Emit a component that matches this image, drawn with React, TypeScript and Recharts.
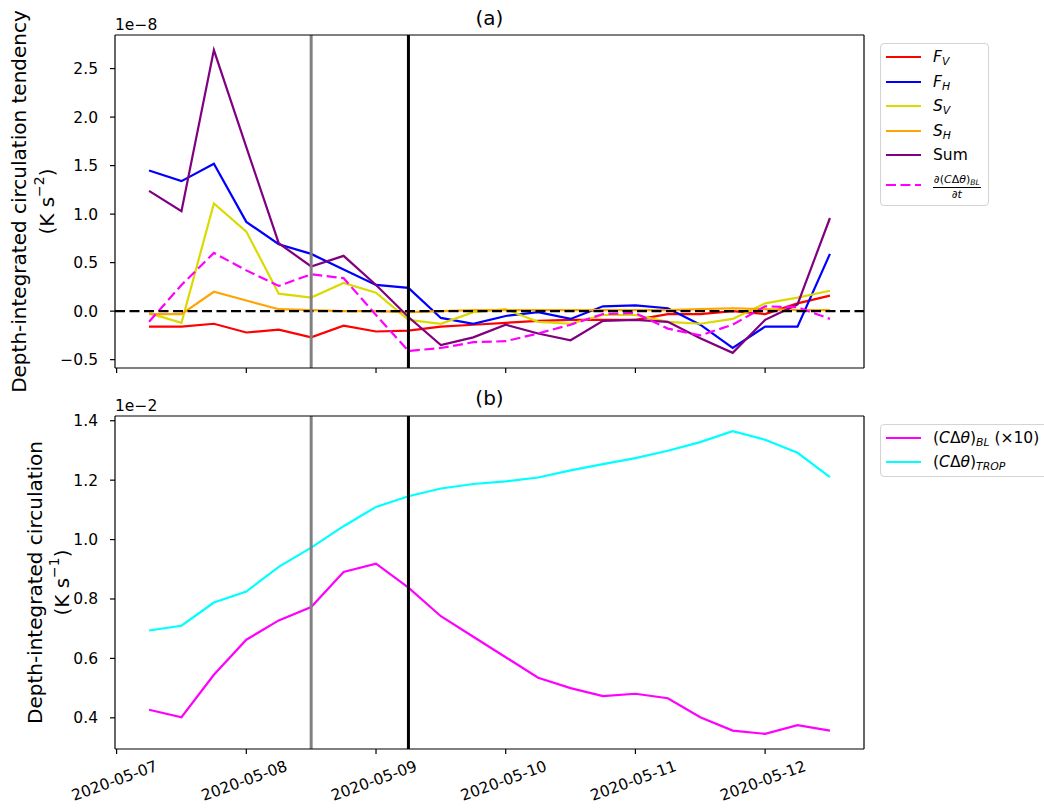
import React from 'react';
import { LineChart, Line, XAxis, YAxis, ReferenceLine } from 'recharts';

// 6-hourly samples
const times = [
  '2020-05-07T06:00Z', '2020-05-07T12:00Z', '2020-05-07T18:00Z',
  '2020-05-08T00:00Z', '2020-05-08T06:00Z', '2020-05-08T12:00Z', '2020-05-08T18:00Z',
  '2020-05-09T00:00Z', '2020-05-09T06:00Z', '2020-05-09T12:00Z', '2020-05-09T18:00Z',
  '2020-05-10T00:00Z', '2020-05-10T06:00Z', '2020-05-10T12:00Z', '2020-05-10T18:00Z',
  '2020-05-11T00:00Z', '2020-05-11T06:00Z', '2020-05-11T12:00Z', '2020-05-11T18:00Z',
  '2020-05-12T00:00Z', '2020-05-12T06:00Z', '2020-05-12T12:00Z',
];
const dayTicks = ['2020-05-07', '2020-05-08', '2020-05-09', '2020-05-10', '2020-05-11', '2020-05-12'];
const markerTimes = ['2020-05-08T12:00Z', '2020-05-09T06:00Z'];

// (a) tendency terms, units 1e-8 K s^-2
const fV = [-0.16, -0.16, -0.13, -0.22, -0.19, -0.27, -0.15, -0.21, -0.20, -0.16, -0.14, -0.12, -0.10, -0.09, -0.09, -0.09, -0.03, -0.03, 0.00, -0.03, 0.08, 0.16];
const fH = [1.45, 1.34, 1.52, 0.92, 0.69, 0.59, 0.43, 0.27, 0.24, -0.07, -0.13, -0.05, -0.01, -0.08, 0.05, 0.06, 0.03, -0.14, -0.38, -0.16, -0.16, 0.59];
const sV = [-0.02, -0.12, 1.11, 0.82, 0.18, 0.14, 0.29, 0.19, -0.09, -0.13, -0.01, 0.02, -0.11, -0.13, -0.04, -0.04, -0.11, -0.13, -0.08, 0.08, 0.14, 0.21];
const sH = [-0.03, -0.03, 0.20, 0.11, 0.02, 0.01, 0.00, 0.00, -0.01, 0.00, 0.01, 0.01, 0.01, 0.01, 0.01, 0.01, 0.01, 0.02, 0.03, 0.02, 0.01, 0.01];
const sumTend = [1.24, 1.03, 2.69, 1.69, 0.70, 0.46, 0.57, 0.27, -0.06, -0.35, -0.27, -0.14, -0.23, -0.30, -0.10, -0.09, -0.11, -0.28, -0.43, -0.09, 0.07, 0.96];
const dBLdt = [-0.11, 0.27, 0.60, 0.42, 0.26, 0.38, 0.34, -0.04, -0.41, -0.38, -0.32, -0.31, -0.23, -0.14, -0.03, -0.02, -0.18, -0.25, -0.14, 0.05, 0.04, -0.08];

// (b) circulation, units 1e-2 K s^-1
const circBL = [0.427, 0.402, 0.545, 0.663, 0.728, 0.773, 0.891, 0.919, 0.838, 0.742, 0.673, 0.604, 0.535, 0.500, 0.473, 0.481, 0.466, 0.402, 0.357, 0.346, 0.375, 0.357];
const circTrop = [0.694, 0.710, 0.788, 0.825, 0.908, 0.973, 1.045, 1.110, 1.146, 1.172, 1.187, 1.196, 1.209, 1.233, 1.254, 1.274, 1.299, 1.328, 1.365, 1.336, 1.292, 1.210];

const topTicks = [-0.5, 0, 0.5, 1.0, 1.5, 2.0, 2.5];
const bottomTicks = [0.4, 0.6, 0.8, 1.0, 1.2, 1.4];

const startMs = Date.parse(dayTicks[0]);
const toDays = (s: string) => (Date.parse(s) - startMs) / 864e5;

// matplotlib style 5% autoscale margins
const padDomain = (vals: number[]): [number, number] => {
  const lo = Math.min(...vals);
  const hi = Math.max(...vals);
  const p = (hi - lo) * 0.05;
  return [lo - p, hi + p];
};

const xs = times.map(toDays);
const xDomain = padDomain(xs);
const tickDays = dayTicks.map(toDays);
const markers = markerTimes.map(toDays);
const topDomain = padDomain([...fV, ...fH, ...sV, ...sH, ...sumTend, ...dBLdt]);
const bottomDomain = padDomain([...circBL, ...circTrop]);

const topData = xs.map((t, i) => ({
  t, fV: fV[i], fH: fH[i], sV: sV[i], sH: sH[i], sum: sumTend[i], dBL: dBLdt[i],
}));
const bottomData = xs.map((t, i) => ({ t, bl: circBL[i], trop: circTrop[i] }));

const FONT = '"DejaVu Sans", sans-serif';
const TICK_FS = 15.5;
const LABEL_FS = 20;
const LW = 2.2;
const DASH = '10 4.5';

const Sub = ({ children }: { children: React.ReactNode }) => (
  <sub style={{ fontSize: '0.7em', fontStyle: 'italic', verticalAlign: '-0.3em', lineHeight: 0 }}>{children}</sub>
);

const CDT = () => (
  <>(<i>C</i>Δ<i>θ</i>)</>
);

const topSeries = [
  { key: 'fV', color: '#ff0000', label: <><i>F</i><Sub>V</Sub></> },
  { key: 'fH', color: '#0000ff', label: <><i>F</i><Sub>H</Sub></> },
  { key: 'sV', color: '#dada00', label: <><i>S</i><Sub>V</Sub></> },
  { key: 'sH', color: '#ffa500', label: <><i>S</i><Sub>H</Sub></> },
  { key: 'sum', color: '#800080', label: <>Sum</> },
  {
    key: 'dBL', color: '#ff00ff', dash: DASH,
    label: (
      <span style={{ display: 'inline-flex', flexDirection: 'column', alignItems: 'center', fontSize: 11, lineHeight: '13px' }}>
        <span style={{ borderBottom: '1px solid #000', padding: '0 1px 1px' }}>∂<CDT /><Sub>BL</Sub></span>
        <span>∂<i>t</i></span>
      </span>
    ),
  },
];

const bottomSeries = [
  { key: 'bl', color: '#ff00ff', label: <><CDT /><Sub>BL</Sub> (×10)</> },
  { key: 'trop', color: '#00ffff', label: <><CDT /><Sub>TROP</Sub></> },
];

const fmt = (v: number) => v.toFixed(1).replace('-', '\u2212');

const YTitle = ({ viewBox, title, exp, off1, off2 }: any) => {
  const right = viewBox.x + viewBox.width;
  const cy = viewBox.y + viewBox.height / 2;
  const x1 = right - off1;
  const x2 = right - off2;
  return (
    <g fontSize={LABEL_FS} fill="#000">
      <text x={x1} y={cy} textAnchor="middle" dominantBaseline="central" transform={`rotate(-90 ${x1} ${cy})`}>{title}</text>
      <text x={x2} y={cy} textAnchor="middle" dominantBaseline="central" transform={`rotate(-90 ${x2} ${cy})`}>
        (K s<tspan dy={-8} fontSize={14}>{exp}</tspan><tspan dy={8}>)</tspan>
      </text>
    </g>
  );
};

const DateTick = ({ x, y, payload }: any) => {
  const idx = tickDays.findIndex(d => Math.abs(d - payload.value) < 1e-6);
  const cx = x - 2;
  const cy = y + 25;
  return (
    <text x={cx} y={cy} textAnchor="middle" dominantBaseline="central" fontSize={TICK_FS} fill="#000"
      transform={`rotate(-20 ${cx} ${cy})`}>
      {idx >= 0 ? dayTicks[idx] : ''}
    </text>
  );
};

const axisStroke = { stroke: '#000', strokeWidth: 1.2 };

const Legend = ({ items, top, heights, width }: any) => (
  <div style={{
    position: 'absolute', left: 880, top, width, border: '1px solid #d4d4d4', borderRadius: 4,
    background: 'rgba(255,255,255,0.8)', paddingTop: 1, paddingBottom: 2, fontSize: TICK_FS, whiteSpace: 'nowrap',
  }}>
    {items.map((s: any, i: number) => (
      <div key={s.key} style={{ display: 'flex', alignItems: 'center', height: heights[i] }}>
        <svg width={35} height={10} style={{ marginLeft: 5, marginRight: 12, flex: 'none' }}>
          <line x1={0} y1={5} x2={35} y2={5} stroke={s.color} strokeWidth={LW} strokeDasharray={s.dash} />
        </svg>
        <span>{s.label}</span>
      </div>
    ))}
  </div>
);

function TopPanel() {
  return (
    <LineChart width={1044} height={400} data={topData} margin={{ top: 35, right: 180, bottom: 20, left: 55 }}>
      <XAxis dataKey="t" type="number" domain={xDomain} allowDataOverflow ticks={tickDays} tickFormatter={() => ''}
        height={12} tickSize={5} axisLine={axisStroke} tickLine={axisStroke} />
      <YAxis type="number" domain={topDomain} allowDataOverflow ticks={topTicks} tickFormatter={fmt} width={60}
        tickSize={5} tickMargin={12} axisLine={axisStroke} tickLine={axisStroke}
        tick={{ fill: '#000', fontSize: TICK_FS }}
        label={<YTitle title="Depth-integrated circulation tendency" exp="−2" off1={96} off2={68} />} />
      {topSeries.map(s => (
        <Line key={s.key} type="linear" dataKey={s.key} stroke={s.color} strokeWidth={LW}
          strokeDasharray={s.dash} dot={false} activeDot={false} isAnimationActive={false} />
      ))}
      <ReferenceLine y={0} stroke="#000" strokeWidth={2.4} strokeDasharray={DASH} />
      <ReferenceLine x={markers[0]} stroke="#808080" strokeWidth={3} />
      <ReferenceLine x={markers[1]} stroke="#000" strokeWidth={3} />
      {/* top and right spines */}
      <ReferenceLine y={topDomain[1]} stroke="#000" strokeWidth={1.2} />
      <ReferenceLine x={xDomain[1]} stroke="#000" strokeWidth={1.2} />
    </LineChart>
  );
}

function BottomPanel() {
  return (
    <LineChart width={1044} height={420} data={bottomData} margin={{ top: 26, right: 180, bottom: 6, left: 55 }}>
      <XAxis dataKey="t" type="number" domain={xDomain} allowDataOverflow ticks={tickDays} tick={<DateTick />}
        height={55} tickSize={5} axisLine={axisStroke} tickLine={axisStroke} />
      <YAxis type="number" domain={bottomDomain} allowDataOverflow ticks={bottomTicks} tickFormatter={fmt} width={60}
        tickSize={5} tickMargin={12} axisLine={axisStroke} tickLine={axisStroke}
        tick={{ fill: '#000', fontSize: TICK_FS }}
        label={<YTitle title="Depth-integrated circulation" exp="−1" off1={80} off2={53} />} />
      {bottomSeries.map(s => (
        <Line key={s.key} type="linear" dataKey={s.key} stroke={s.color} strokeWidth={LW}
          dot={false} activeDot={false} isAnimationActive={false} />
      ))}
      <ReferenceLine x={markers[0]} stroke="#808080" strokeWidth={3} />
      <ReferenceLine x={markers[1]} stroke="#000" strokeWidth={3} />
      <ReferenceLine y={bottomDomain[1]} stroke="#000" strokeWidth={1.2} />
      <ReferenceLine x={xDomain[1]} stroke="#000" strokeWidth={1.2} />
    </LineChart>
  );
}

export default function App() {
  return (
    <div style={{
      position: 'absolute', left: 0, top: 0, width: 1044, height: 810, overflow: 'hidden',
      background: '#fff', fontFamily: FONT, color: '#000',
    }}>
      <div style={{ position: 'absolute', left: 0, top: 390 }}>
        <BottomPanel />
      </div>
      <div style={{ position: 'absolute', left: 0, top: 0 }}>
        <TopPanel />
      </div>
      <svg width={1044} height={810} style={{ position: 'absolute', left: 0, top: 0, pointerEvents: 'none' }}>
        <text x={489.5} y={25} textAnchor="middle" fontSize={LABEL_FS}>(a)</text>
        <text x={489.5} y={405} textAnchor="middle" fontSize={LABEL_FS}>(b)</text>
        <text x={115} y={30} fontSize={TICK_FS}>1e−8</text>
        <text x={115} y={411} fontSize={TICK_FS}>1e−2</text>
      </svg>
      <Legend items={topSeries} top={43} heights={[24.5, 24.5, 24.5, 24.5, 24.5, 35]} width={107} />
      <Legend items={bottomSeries} top={424} heights={[24, 24]} width={220} />
    </div>
  );
}
